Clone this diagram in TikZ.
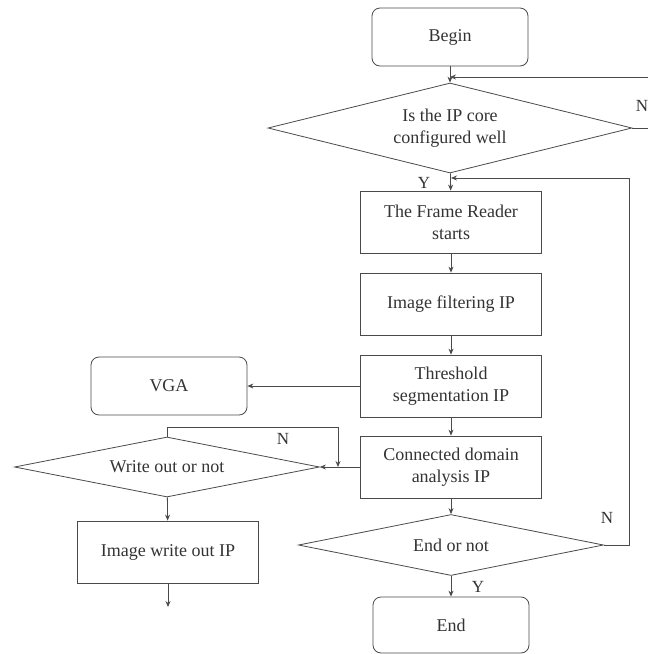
\documentclass[tikz,border=0pt]{standalone}
\usepackage{fontspec}
\setmainfont{Liberation Serif}
\usetikzlibrary{arrows.meta, shapes.geometric}
\definecolor{FlowLine}{HTML}{4A4A4A}
\definecolor{FlowText}{HTML}{333333}

\begin{document}
\begin{tikzpicture}[
        x=1pt, y=-1pt,
        every node/.style={font=\fontsize{18}{22}\selectfont, text=FlowText},
        terminal/.style={rectangle, rounded corners=8pt, draw=FlowLine, line width=0.8pt,
            minimum width=156pt, minimum height=58pt, inner sep=0pt},
        process/.style={rectangle, draw=FlowLine, line width=0.8pt, align=center,
            minimum width=181pt, minimum height=62pt, inner sep=0pt},
        decision/.style={diamond, draw=FlowLine, line width=0.8pt, align=center, inner sep=0pt},
        flow/.style={draw=FlowLine, line width=0.8pt, -{Stealth[length=6pt,width=5pt]}},
        branchlabel/.style={font=\fontsize{17}{17}\selectfont, inner sep=0pt}
    ]

    % Page frame
    \clip (0,0) rectangle (648,654);

    % Main column
    \node[terminal] (begin) at (450,37) {Begin};
    \node[decision, minimum width=364pt, minimum height=90pt, aspect=4] (cfg) at (450,128)
        {Is the IP core\\configured well};
    \node[process] (frame) at (451,222) {The Frame Reader\\starts};
    \node[process] (filt) at (451,304) {Image filtering IP};
    \node[process] (thr) at (451,386) {Threshold\\segmentation IP};
    \node[process] (cda) at (451,467) {Connected domain\\analysis IP};
    \node[decision, minimum width=305pt, minimum height=61pt, aspect=5] (endq) at (451,545)
        {End or not};
    \node[terminal, minimum height=56pt] (end) at (451,625) {End};

    % Left branch
    \node[terminal] (vga) at (169,386) {VGA};
    \node[decision, minimum width=305pt, minimum height=60pt, aspect=5] (wr) at (167,467)
        {Write out or not};
    \node[process] (iwo) at (168,552) {Image write out IP};

    % Loop entry points
    \coordinate (cfgin) at (450,77);
    \coordinate (frin) at (451,178);
    \coordinate (wrin) at (338,467);
    \coordinate (out) at (168,607);

    % Connectors
    \draw[flow] (begin) -- (cfg);
    \draw[flow] (cfg) -- (frame);
    \draw[flow] (frame) -- (filt);
    \draw[flow] (filt) -- (thr);
    \draw[flow] (thr) -- (cda);
    \draw[flow] (cda) -- (endq);
    \draw[flow] (endq) -- (end);
    \draw[flow] (thr) -- (vga);
    \draw[flow] (cda) -- (wr);
    \draw[flow] (wr) -- (iwo);
    \draw[flow] (iwo) -- (out);

    % Feedback loops
    \draw[flow] (cfg.east) -- ++(30,0) |- (cfgin);
    \draw[flow] (endq.east) -- ++(25,0) |- (frin);
    \draw[flow] (wr.north) -- ++(0,-9) -| (wrin);

    % Branch labels
    \node[branchlabel] (cfgn) at (642,106) {N};
    \node[branchlabel] (cfgy) at (424,183) {Y};
    \node[branchlabel] (endn) at (607,518) {N};
    \node[branchlabel] (endy) at (478,587) {Y};
    \node[branchlabel] (wrn) at (283,439) {N};

\end{tikzpicture}
\end{document}
